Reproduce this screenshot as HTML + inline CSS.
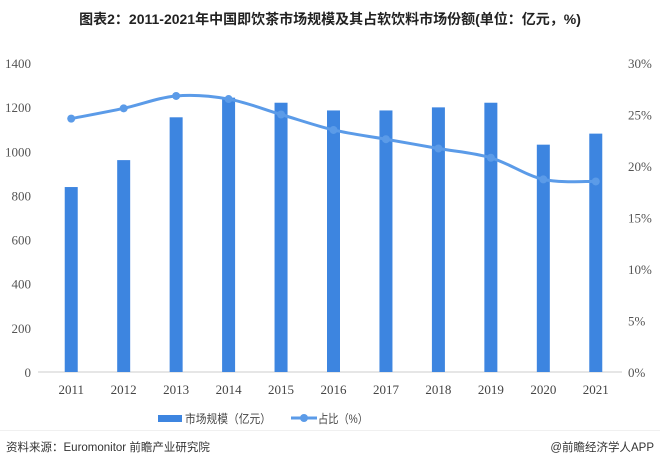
<!DOCTYPE html>
<html><head><meta charset="utf-8">
<style>
body{margin:0;width:660px;height:467px;background:#fff;overflow:hidden;font-family:"Liberation Sans","Noto Sans CJK SC",sans-serif;}
#title{position:absolute;left:0;top:9px;width:660px;text-align:center;font-weight:bold;font-size:14px;color:#222;}
#foot-l{position:absolute;left:6px;top:439px;font-size:11.5px;color:#333;}
#foot-r{position:absolute;right:6px;top:439px;font-size:11.5px;color:#333;}
#sep{position:absolute;left:0;top:430px;width:660px;height:1px;background:#f0f0f0;}
svg{position:absolute;left:0;top:0;}
</style></head><body>
<div id="title">图表2：2011-2021年中国即饮茶市场规模及其占软饮料市场份额(单位：亿元，%)</div>
<svg id="chart" width="660" height="467"></svg>
<div id="sep"></div>
<div id="foot-l">资料来源：Euromonitor 前瞻产业研究院</div>
<div id="foot-r">@前瞻经济学人APP</div>
<script>
const categories=["2011","2012","2013","2014","2015","2016","2017","2018","2019","2020","2021"];
const marketSize=[838,960,1154,1243,1220,1185,1185,1199,1220,1030,1080];
const share=[24.6,25.6,26.8,26.5,25.0,23.5,22.6,21.7,20.8,18.7,18.5];
const leftTicks=[0,200,400,600,800,1000,1200,1400];
const rightTicks=[0,5,10,15,20,25,30];
const NS="http://www.w3.org/2000/svg";
const svg=document.getElementById('chart');
const x0=45,x1=622,yB=372,yT=63;
const band=(x1-x0)/categories.length;
const xc=i=>x0+band*(i+0.5);
const yL=v=>yB-(v/1400)*(yB-yT);
const yR=v=>yB-(v/30)*(yB-yT);
function mk(t,a){const e=document.createElementNS(NS,t);for(const k in a)e.setAttribute(k,a[k]);svg.appendChild(e);return e;}
leftTicks.forEach(v=>{const t=mk('text',{x:31,y:yL(v)+5,'text-anchor':'end','font-size':13,fill:'#555','font-family':'Liberation Serif,serif'});t.textContent=v;

});
rightTicks.forEach(v=>{const t=mk('text',{x:628,y:yR(v)+5,'font-size':13,fill:'#555','font-family':'Liberation Serif,serif'});t.textContent=v+'%';

});
const ax=mk('line',{x1:38,x2:x1,y1:yB,y2:yB,stroke:'#ccc','stroke-width':1});


categories.forEach((c,i)=>{
const b=mk('rect',{x:xc(i)-6.5,y:yL(marketSize[i]),width:13,height:yB-yL(marketSize[i]),fill:'#3d85e0'});


const t=mk('text',{x:xc(i),y:394,'text-anchor':'middle','font-size':13,fill:'#444','font-family':'Liberation Serif,serif'});t.textContent=c;


});
const pts=share.map((v,i)=>[xc(i),yR(v)]);
let d='M'+pts[0][0]+','+pts[0][1];
for(let i=0;i<pts.length-1;i++){const p0=pts[i-1]||pts[i],p1=pts[i],p2=pts[i+1],p3=pts[i+2]||p2;
const c1=[p1[0]+(p2[0]-p0[0])/6,p1[1]+(p2[1]-p0[1])/6],c2=[p2[0]-(p3[0]-p1[0])/6,p2[1]-(p3[1]-p1[1])/6];
d+=' C'+c1+' '+c2+' '+p2;}
const ln=mk('path',{d:d,fill:'none',stroke:'#5b9be8','stroke-width':3});


pts.forEach((p,i)=>{const c=mk('circle',{cx:p[0],cy:p[1],r:4,fill:'#5b9be8'});

});
// legend
const lb=mk('rect',{x:158,y:415,width:24,height:7,fill:'#3d85e0'});


const lt=mk('text',{x:185,y:423,'font-size':12,fill:'#444',textLength:86,lengthAdjust:'spacingAndGlyphs'});lt.textContent='市场规模（亿元）';


const ll=mk('line',{x1:291,x2:317,y1:418,y2:418,stroke:'#5b9be8','stroke-width':3});


const lc=mk('circle',{cx:304,cy:418,r:4,fill:'#5b9be8'});


const lt2=mk('text',{x:318,y:423,'font-size':12,fill:'#444',textLength:50,lengthAdjust:'spacingAndGlyphs'});lt2.textContent='占比（%）';


</script>
</body></html>
